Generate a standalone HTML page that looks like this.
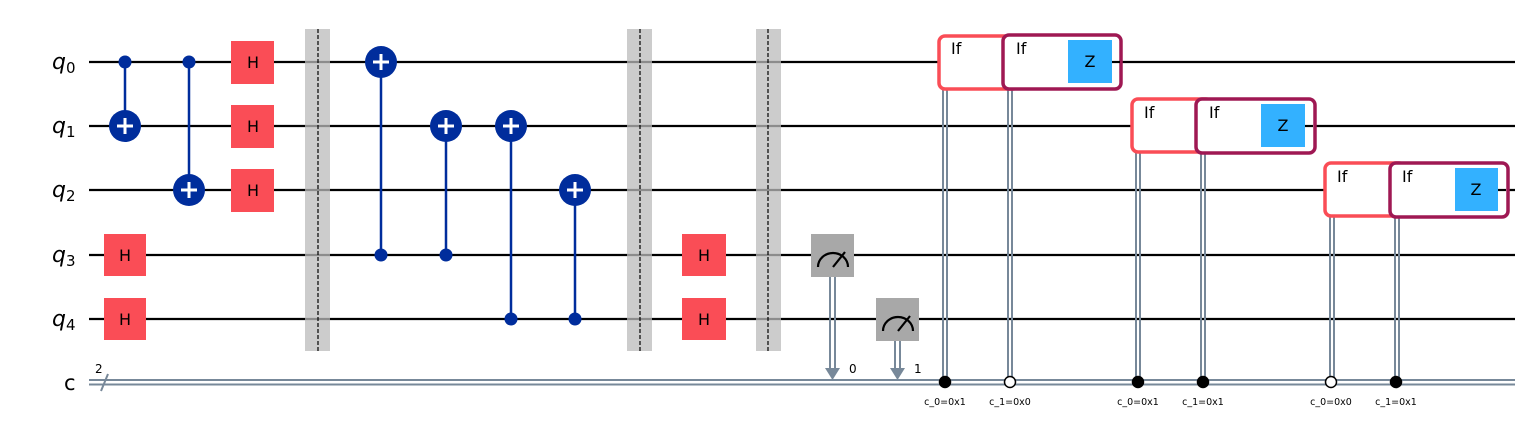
<!DOCTYPE html>
<html><head><meta charset="utf-8"><style>html,body{margin:0;padding:0;background:#fff}svg{display:block}</style></head>
<body>
<svg width="1528" height="432" viewBox="0 0 1528 432" xmlns="http://www.w3.org/2000/svg" font-family="'DejaVu Sans','Liberation Sans',sans-serif">
<g stroke="#000" stroke-width="2.2">
<line x1="89" y1="62" x2="1515" y2="62"/>
<line x1="89" y1="126" x2="1515" y2="126"/>
<line x1="89" y1="190" x2="1515" y2="190"/>
<line x1="89" y1="255" x2="1515" y2="255"/>
<line x1="89" y1="319" x2="1515" y2="319"/>
</g>
<g stroke="#778899" stroke-width="2">
<line x1="89" y1="380" x2="1515" y2="380"/>
<line x1="89" y1="384.5" x2="1515" y2="384.5"/>
<line x1="101" y1="391" x2="108" y2="374"/>
</g>
<text x="95" y="373" font-size="12">2</text>
<g font-size="22" font-style="italic" font-family="'DejaVu Sans','Liberation Sans',sans-serif">
<text x="52" y="69">q<tspan font-size="15" font-style="normal" dy="4">0</tspan></text>
<text x="52" y="133">q<tspan font-size="15" font-style="normal" dy="4">1</tspan></text>
<text x="52" y="197">q<tspan font-size="15" font-style="normal" dy="4">2</tspan></text>
<text x="52" y="262">q<tspan font-size="15" font-style="normal" dy="4">3</tspan></text>
<text x="52" y="326">q<tspan font-size="15" font-style="normal" dy="4">4</tspan></text>
</g>
<text x="64" y="390" font-size="21">c</text>
<g fill="#bbb" fill-opacity="0.75">
<rect x="305" y="29" width="25" height="322"/>
<rect x="627" y="29" width="25" height="322"/>
<rect x="756" y="29" width="25" height="322"/>
</g>
<g stroke="#000" stroke-width="1.2" stroke-dasharray="4,2">
<line x1="318" y1="29" x2="318" y2="351"/>
<line x1="640" y1="29" x2="640" y2="351"/>
<line x1="768" y1="29" x2="768" y2="351"/>
</g>
<g fill="#fa4d56">
<rect x="104" y="234" width="42" height="42"/>
<rect x="104" y="298" width="42" height="42"/>
<rect x="231" y="41" width="43" height="43"/>
<rect x="231" y="105" width="43" height="43"/>
<rect x="231" y="169" width="43" height="43"/>
<rect x="682" y="234" width="44" height="42"/>
<rect x="682" y="298" width="44" height="42"/>
</g>
<g font-size="16" text-anchor="middle">
<text x="125" y="261">H</text><text x="125" y="325">H</text>
<text x="253" y="68">H</text><text x="253" y="132">H</text><text x="253" y="196">H</text>
<text x="704" y="261">H</text><text x="704" y="325">H</text>
</g>
<g stroke="#002d9c" stroke-width="2.5">
<line x1="125" y1="62" x2="125" y2="126"/>
<line x1="189" y1="62" x2="189" y2="190"/>
<line x1="381" y1="62" x2="381" y2="255"/>
<line x1="446" y1="126" x2="446" y2="255"/>
<line x1="511" y1="126" x2="511" y2="319"/>
<line x1="575" y1="190" x2="575" y2="319"/>
</g>
<g fill="#002d9c">
<circle cx="125" cy="62" r="6.5"/><circle cx="189" cy="62" r="6.5"/>
<circle cx="381" cy="255" r="6.5"/><circle cx="446" cy="255" r="6.5"/>
<circle cx="511" cy="319" r="6.5"/><circle cx="575" cy="319" r="6.5"/>
<circle cx="125" cy="126" r="16"/><circle cx="189" cy="190" r="16"/>
<circle cx="381" cy="62" r="16"/><circle cx="446" cy="126" r="16"/>
<circle cx="511" cy="126" r="16"/><circle cx="575" cy="190" r="16"/>
</g>
<g stroke="#fff" stroke-width="3">
<path d="M117 126h16M125 118v16"/><path d="M181 190h16M189 182v16"/>
<path d="M373 62h16M381 54v16"/><path d="M438 126h16M446 118v16"/>
<path d="M503 126h16M511 118v16"/><path d="M567 190h16M575 182v16"/>
</g>
<g stroke="#778899" stroke-width="2">
<line x1="830" y1="276" x2="830" y2="368"/><line x1="835" y1="276" x2="835" y2="368"/>
<line x1="895" y1="340" x2="895" y2="368"/><line x1="900" y1="340" x2="900" y2="368"/>
</g>
<g fill="#778899">
<path d="M825 368h15l-7.5 12z"/><path d="M890 368h15l-7.5 12z"/>
</g>
<rect x="811" y="234" width="43" height="43" fill="#a8a8a8"/>
<rect x="876" y="298" width="43" height="43" fill="#a8a8a8"/>
<g fill="none" stroke="#000" stroke-width="2.2">
<path d="M818 267a15 14 0 0 1 30 0M833 267l12-15"/>
<path d="M883 331a15 14 0 0 1 30 0M898 331l12-15"/>
</g>
<g font-size="12"><text x="849" y="373">0</text><text x="914" y="373">1</text></g>
<g stroke="#778899" stroke-width="2">
<line x1="943" y1="89" x2="943" y2="382"/><line x1="947" y1="89" x2="947" y2="382"/>
<line x1="1008" y1="89" x2="1008" y2="382"/><line x1="1012" y1="89" x2="1012" y2="382"/>
<line x1="1136" y1="153" x2="1136" y2="382"/><line x1="1140" y1="153" x2="1140" y2="382"/>
<line x1="1201" y1="153" x2="1201" y2="382"/><line x1="1205" y1="153" x2="1205" y2="382"/>
<line x1="1330" y1="217" x2="1330" y2="382"/><line x1="1334" y1="217" x2="1334" y2="382"/>
<line x1="1395" y1="217" x2="1395" y2="382"/><line x1="1399" y1="217" x2="1399" y2="382"/>
</g>
<g fill="#fff" stroke-width="3.5">
<rect x="939" y="36" width="80" height="53" rx="6" stroke="#fa4d56"/>
<rect x="1003" y="35" width="118" height="54" rx="6" stroke="#9f1853"/>
<rect x="1132" y="99" width="80" height="53" rx="6" stroke="#fa4d56"/>
<rect x="1196" y="99" width="119" height="54" rx="6" stroke="#9f1853"/>
<rect x="1325" y="163" width="80" height="53" rx="6" stroke="#fa4d56"/>
<rect x="1390" y="163" width="118" height="54" rx="6" stroke="#9f1853"/>
</g>
<g stroke="#000" stroke-width="2.2">
<line x1="1112" y1="62" x2="1120" y2="62"/>
<line x1="1305" y1="126" x2="1313" y2="126"/>
<line x1="1498" y1="190" x2="1506" y2="190"/>
</g>
<g fill="#33b1ff">
<rect x="1068" y="40" width="44" height="43"/>
<rect x="1261" y="104" width="44" height="43"/>
<rect x="1455" y="168" width="43" height="43"/>
</g>
<g font-size="16">
<text x="951" y="54">If</text><text x="1016" y="54">If</text>
<text x="1144" y="118">If</text><text x="1209" y="118">If</text>
<text x="1337" y="182">If</text><text x="1402" y="182">If</text>
</g>
<g font-size="16" text-anchor="middle">
<text x="1090" y="67">Z</text><text x="1283" y="131">Z</text><text x="1476" y="195">Z</text>
</g>
<g stroke="#000" stroke-width="1.5">
<circle cx="945" cy="382" r="5.5" fill="#000"/>
<circle cx="1010" cy="382" r="5.5" fill="#fff"/>
<circle cx="1138" cy="382" r="5.5" fill="#000"/>
<circle cx="1203" cy="382" r="5.5" fill="#000"/>
<circle cx="1331" cy="382" r="5.5" fill="#fff"/>
<circle cx="1396" cy="382" r="5.5" fill="#000"/>
</g>
<g font-size="9.5" text-anchor="middle">
<text x="945" y="405">c_0=0x1</text><text x="1010" y="405">c_1=0x0</text>
<text x="1138" y="405">c_0=0x1</text><text x="1203" y="405">c_1=0x1</text>
<text x="1331" y="405">c_0=0x0</text><text x="1396" y="405">c_1=0x1</text>
</g>
</svg>
</body></html>
